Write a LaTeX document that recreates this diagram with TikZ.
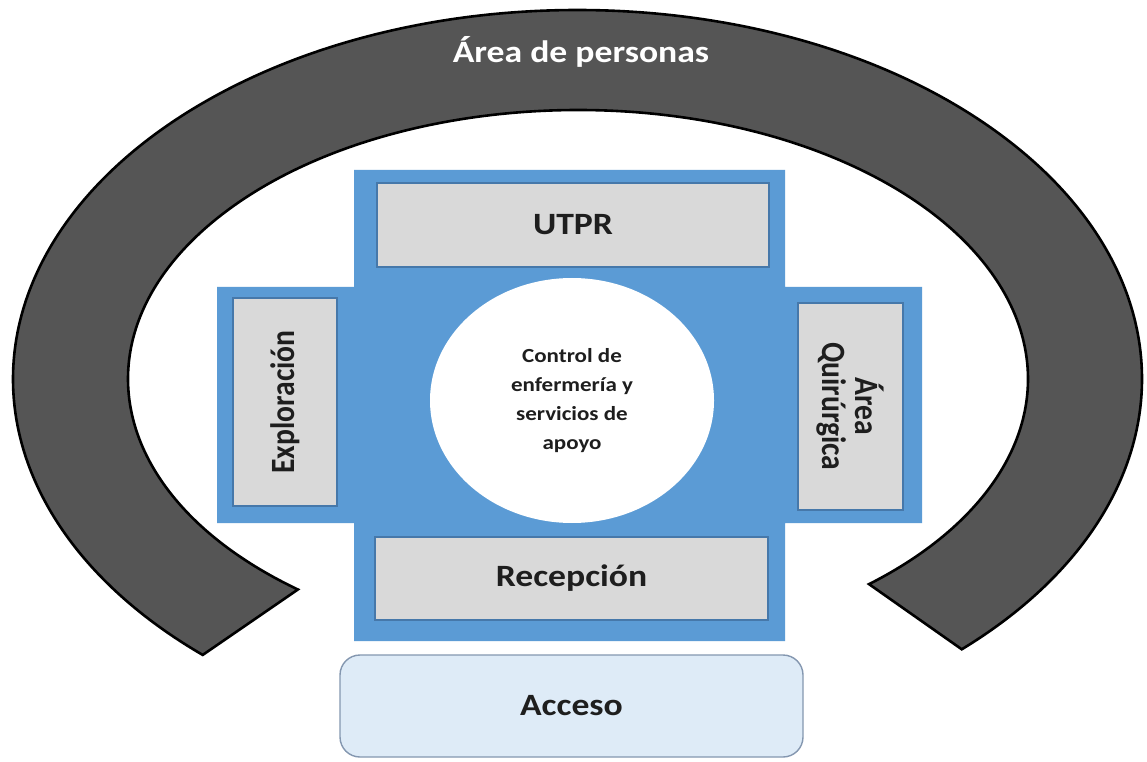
\documentclass[tikz,border=0pt]{standalone}
\usepackage{fontspec}
\setmainfont{Carlito}
% widened face for horizontal labels, narrowed face for the upright (rotated) ones
\newfontfamily\hfont[FakeStretch=1.15]{Carlito}
\newfontfamily\vfont[FakeStretch=0.87]{Carlito}
\usetikzlibrary{calc,shapes.geometric}
\definecolor{bandgray}{RGB}{85,85,85}
\definecolor{crossblue}{RGB}{91,155,213}
\definecolor{roomgray}{RGB}{217,217,217}
\definecolor{roomedge}{RGB}{70,120,170}
\definecolor{accessfill}{RGB}{222,235,247}
\definecolor{accessedge}{RGB}{132,151,176}
\definecolor{labelink}{RGB}{30,30,30}
\begin{document}
\begin{tikzpicture}[x=1pt,y=1pt,
  band/.style={fill=bandgray,draw=black,line width=2.6pt,line join=miter},
  crossfill/.style={fill=crossblue},
  roombox/.style={draw=roomedge,fill=roomgray,line width=2pt,inner sep=0pt,
    text=labelink,font=\hfont\bfseries\fontsize{31}{36}\selectfont},
  sidebox/.style={roombox,font=\vfont\bfseries\fontsize{34}{33}\selectfont,align=center},
  hub/.style={ellipse,fill=white,draw=none,inner sep=0pt,align=center,text=labelink,
    font=\hfont\bfseries\fontsize{20}{29}\selectfont},
  accessbox/.style={draw=accessedge,fill=accessfill,line width=1.4pt,rounded corners=20pt,
    text=labelink,font=\hfont\bfseries\fontsize{31}{36}\selectfont},
  bandtitle/.style={text=white,font=\hfont\bfseries\fontsize{31}{36}\selectfont}]

% canvas
\fill[white] (0,0) rectangle (1147,761);
\useasboundingbox (0,0) rectangle (1147,761);

% outer horseshoe band
\draw[band]
  ($(577.5,382)+(-47.1:564.5pt and 369pt)$)
  arc[start angle=-47.1,end angle=228.4,x radius=564.5pt,y radius=369pt]
  -- ($(578,382)+(231.5:450pt and 269pt)$)
  arc[start angle=231.5,end angle=-49.7,x radius=450pt,y radius=269pt]
  -- cycle;
\node[bandtitle,anchor=base] (personas) at (581,698) {Área de personas};

% blue cross
\fill[crossfill] (354,591) -- (785,591) -- (785,474) -- (922,474) -- (922,238)
  -- (785,238) -- (785,120) -- (354,120) -- (354,238) -- (217,238)
  -- (217,474) -- (354,474) -- cycle;

% rooms
\node[roombox,minimum width=392,minimum height=84] (utpr) at (573,536) {UTPR};
\node[roombox,minimum width=393,minimum height=83] (recepcion) at (571.5,182.5) {Recepción};
\node[sidebox,rotate=90,minimum width=208,minimum height=104] (exploracion) at (285,359) {Exploración};
\node[sidebox,rotate=-90,minimum width=207,minimum height=105] (quirurgica) at (850.5,354.5) {Área\\Quirúrgica};

% central hub
\node[hub,minimum width=284,minimum height=245] (control) at (572,360.5)
  {Control de\\enfermería y\\servicios de\\apoyo};

% entrance
\node[accessbox,minimum width=463,minimum height=102] (acceso) at (571.5,55) {Acceso};

\end{tikzpicture}
\end{document}
